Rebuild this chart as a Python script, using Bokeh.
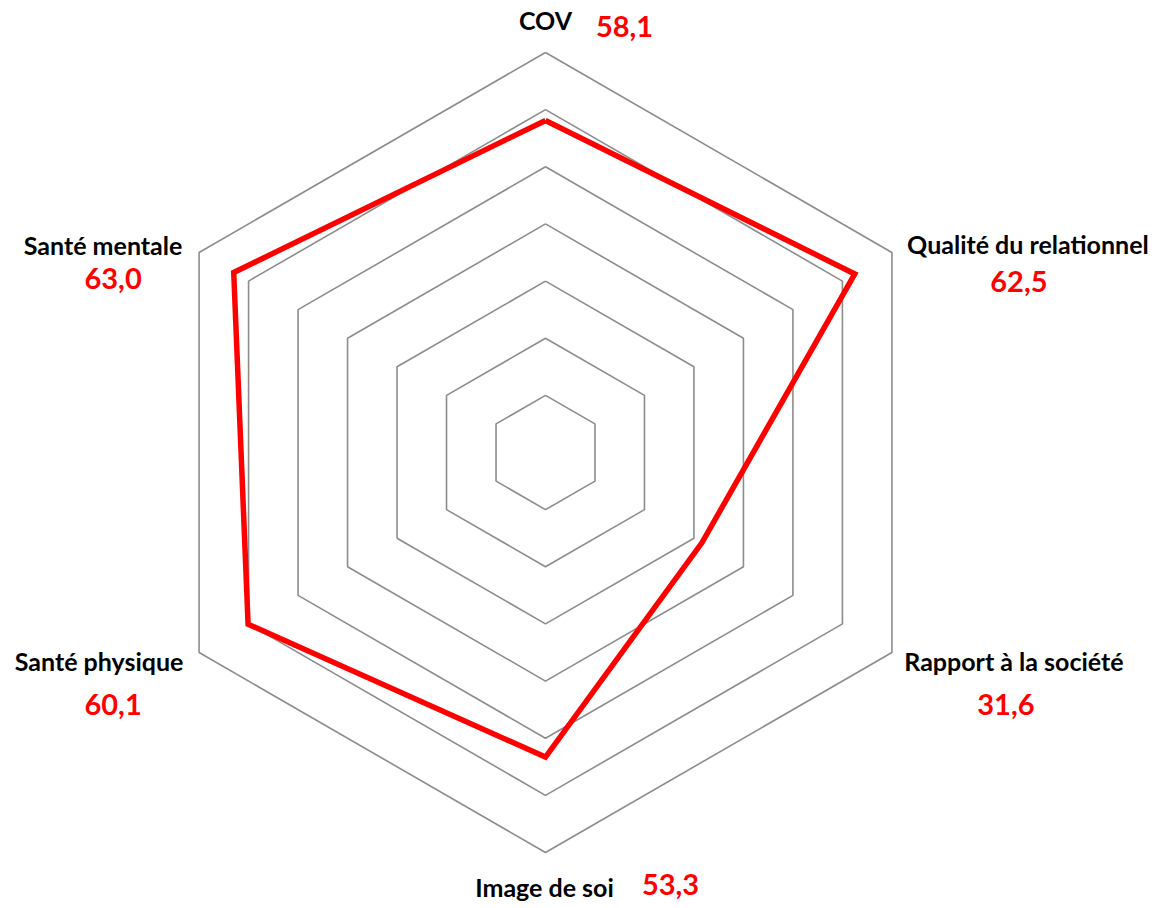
import numpy as np
from bokeh.plotting import figure
from bokeh.models import Range1d, ColumnDataSource
from bokeh.embed import file_html
from bokeh.resources import INLINE
from bokeh.core.properties import value

categories = ["COV", "Qualité du relationnel", "Rapport à la société",
              "Image de soi", "Santé physique", "Santé mentale"]
scores = [58.1, 62.5, 31.6, 53.3, 60.1, 63.0]
score_labels = ["58,1", "62,5", "31,6", "53,3", "60,1", "63,0"]
rings = [10, 20, 30, 40, 50, 60, 70]
r_max = 70

# label pixel offsets relative to outer vertex (style/position only)
lab_dx = [0, 136, 122, -1, -100, -96]
lab_dy = [-33, -9, 8, 34, 8, -8]
val_dx = [79, 127, 114, 125, -86, -86]
val_dy = [-26, 29, 52, 32, 52, 26]

W, H = 1173, 908
cx_px, cy_px = 545, 452
R_px = 400
s = R_px / r_max

p = figure(width=W, height=H,
           x_range=Range1d(-cx_px / s, (W - cx_px) / s),
           y_range=Range1d(-(H - cy_px) / s, cy_px / s),
           output_backend="svg", toolbar_location=None, min_border=0,
           x_axis_location=None, y_axis_location=None)
p.grid.visible = False
p.outline_line_color = None
p.background_fill_color = "white"
p.border_fill_color = "white"

n = len(categories)
angles = np.pi / 2 - np.arange(n) * 2 * np.pi / n

# grid rings
xs, ys = [], []
for r in rings:
    xs.append(list(np.append(r * np.cos(angles), r * np.cos(angles[0]))))
    ys.append(list(np.append(r * np.sin(angles), r * np.sin(angles[0]))))
p.multi_line(xs, ys, line_color="#8c8c8c", line_width=1.6)

# data polygon
dx = np.array(scores) * np.cos(angles)
dy = np.array(scores) * np.sin(angles)
p.line(list(np.append(dx, dx[0])), list(np.append(dy, dy[0])),
       line_color="#ff0000", line_width=5.5, line_join="miter")

# labels
ox = r_max * np.cos(angles)
oy = r_max * np.sin(angles)
src = ColumnDataSource(dict(x=ox, y=oy, cat=categories, val=score_labels,
                            ldx=lab_dx, ldy=lab_dy, vdx=val_dx, vdy=val_dy))
p.text(x="x", y="y", text="cat", source=src, x_offset="ldx", y_offset="ldy",
       text_font=value("Lato"), text_font_style="bold", text_font_size="25px",
       text_color="black", text_align="center", text_baseline="middle")
p.text(x="x", y="y", text="val", source=src, x_offset="vdx", y_offset="vdy",
       text_font=value("Lato"), text_font_style="bold", text_font_size="29px",
       text_color="#ff0000", text_align="center", text_baseline="middle")

open("out.html", "w").write(file_html(p, INLINE))
